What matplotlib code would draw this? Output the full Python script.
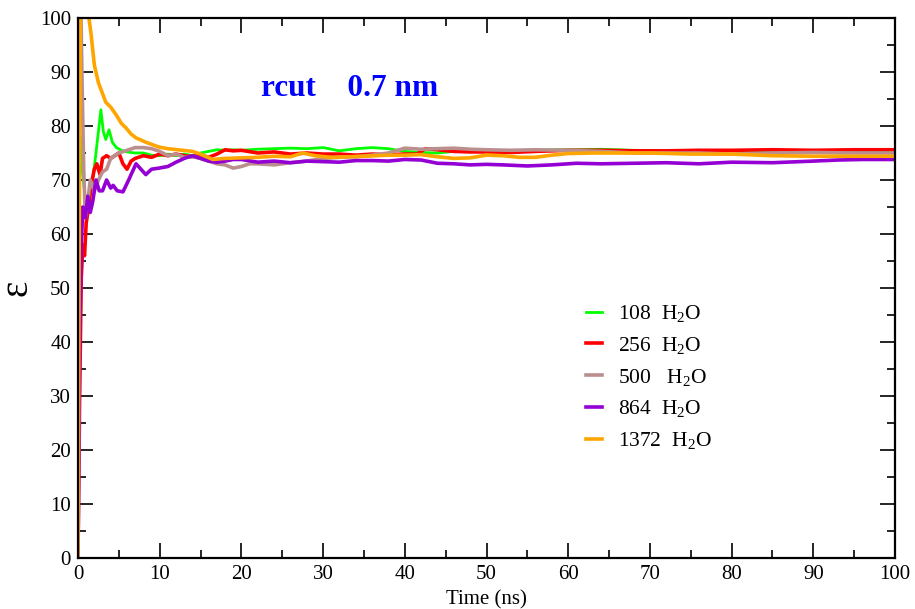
import matplotlib
matplotlib.use("Agg")
import matplotlib.pyplot as plt
from matplotlib.ticker import MultipleLocator

plt.rcParams['font.family'] = ['Liberation Serif', 'DejaVu Serif']
plt.rcParams['mathtext.fontset'] = 'custom'
plt.rcParams['mathtext.rm'] = 'Liberation Serif'
plt.rcParams['mathtext.it'] = 'Liberation Serif:italic'
plt.rcParams['mathtext.bf'] = 'Liberation Serif:bold'

# Running dielectric constant vs. simulation time, rcut = 0.7 nm
t_108 = [0, 0.15, 0.3, 0.5, 0.8, 1.1, 1.4, 1.8, 2.2, 2.5, 2.8, 3.1, 3.4, 3.8, 4.2, 4.7,
         5.3, 6, 7, 8, 9, 10, 11, 12, 13, 14, 15, 16, 17, 18, 19, 20, 22, 24, 26, 28,
         30, 32, 34, 36, 38, 40, 42, 44, 46, 48, 50, 52, 55, 58, 61, 64, 68, 72, 76,
         80, 85, 90, 95, 100]
eps_108 = [0, 74, 78, 72, 68, 64, 66, 70, 75, 79, 83, 79, 77.5, 79.3, 77, 76, 75.5, 75.2,
           75, 75, 74.6, 74.5, 74.8, 74.5, 74.8, 74.5, 75, 75.3, 75.6, 75.5, 75.6, 75.5,
           75.7, 75.8, 75.9, 75.8, 76, 75.4, 75.8, 76, 75.8, 75.3, 75.1, 75, 75.3, 75.4,
           75.2, 75.3, 75.4, 75.6, 75.6, 75.7, 75.5, 75.3, 75.2, 75.4, 75.3, 75.4, 75.3,
           75.3]

t_256 = [0, 0.2, 0.4, 0.6, 0.8, 1.0, 1.3, 1.6, 2.0, 2.3, 2.7, 3.0, 3.5, 4.0, 4.5, 5.0,
         5.5, 6.0, 6.5, 7, 8, 9, 10, 11, 12, 13, 14, 15, 16, 17, 18, 19, 20, 22, 24, 26,
         28, 30, 32, 34, 36, 38, 40, 41.5, 42.5, 44, 46, 48, 50, 53, 56, 60, 64, 68, 72,
         76, 80, 85, 90, 95, 100]
eps_256 = [0, 30, 52, 58, 56, 62, 65, 69, 72, 73, 71, 74, 74.5, 74, 74.5, 75, 73, 72,
           73.5, 74, 74.5, 74.2, 74.8, 74.5, 74.8, 74.5, 74.3, 74.6, 74.2, 74.8, 75.6,
           75.4, 75.5, 75, 75.2, 74.8, 75, 74.8, 74.8, 74.6, 74.8, 74.7, 74.8, 74.8, 75.8,
           75.6, 75.3, 75.2, 75.2, 75.1, 75.3, 75.5, 75.5, 75.4, 75.4, 75.5, 75.5, 75.6,
           75.5, 75.6, 75.6]

t_500 = [0, 0.1, 0.2, 0.35, 0.5, 0.7, 0.9, 1.2, 1.5, 2, 2.5, 3, 3.5, 4, 4.5, 5, 6, 7, 8,
         9, 10, 11, 12, 13, 14, 15, 16, 17, 18, 19, 20, 21, 22, 24, 26, 28, 30, 32, 34,
         36, 38, 40, 42, 44, 46, 48, 50, 53, 56, 60, 64, 68, 72, 76, 80, 85, 90, 95, 100]
eps_500 = [0, 60, 105, 102, 88, 72, 63, 66, 70, 68, 70, 71.5, 72, 74, 74.5, 75, 75.5, 76,
           76, 75.8, 75.3, 74.5, 74.8, 74.2, 74.3, 74, 73.5, 73, 72.8, 72.2, 72.5, 73, 73,
           72.8, 73.2, 73.5, 74, 74.2, 74.3, 74.6, 75, 75.9, 75.7, 75.8, 75.9, 75.7, 75.6,
           75.5, 75.6, 75.5, 75.3, 75, 75, 75, 74.8, 75, 75.1, 75, 75]

t_864 = [0, 0.2, 0.4, 0.6, 0.9, 1.2, 1.5, 1.8, 2.2, 2.6, 3, 3.5, 4, 4.3, 4.8, 5.5, 6.2,
         7.1, 7.7, 8.3, 9, 9.9, 11, 12, 13, 14, 15, 16, 17, 18, 19, 20, 22, 24, 26, 28,
         30, 32, 34, 36, 38, 40, 42, 44, 46, 48, 50, 52, 55, 58, 61, 64, 68, 72, 76, 80,
         85, 90, 93, 96, 100]
eps_864 = [0, 40, 58, 65, 63, 67, 64, 66, 70, 68, 68, 70, 68.5, 69, 68, 67.8, 70, 73, 72,
           71, 72, 72.2, 72.5, 73.3, 74, 74.5, 74, 73.5, 73.3, 73.5, 73.8, 73.8, 73.3,
           73.5, 73.2, 73.5, 73.4, 73.3, 73.6, 73.6, 73.5, 73.8, 73.7, 73.1, 73, 72.8,
           72.9, 72.8, 72.6, 72.8, 73.1, 73, 73.1, 73.2, 73, 73.3, 73.2, 73.5, 73.7, 73.8,
           73.8]

t_1372 = [0, 0.15, 0.3, 0.6, 1.0, 1.3, 1.6, 2.0, 2.5, 3.0, 3.4, 4.0, 4.7, 5.3, 5.9, 6.5,
          7.1, 8.3, 9.9, 11, 12.8, 14, 15, 16.5, 18, 20, 22, 24, 26, 27.5, 29, 31, 33,
          35, 38, 40, 42, 44, 46, 48, 50, 52, 54, 56, 58, 60, 63, 66, 70, 75, 80, 85, 90,
          95, 100]
eps_1372 = [0, 60, 105, 108, 104, 100.5, 97, 91.3, 88, 86, 84.4, 83.5, 82, 80.5, 79.6,
            78.5, 77.8, 77, 76.1, 75.8, 75.5, 75.3, 74.8, 73.8, 74, 74.1, 74.2, 74.4, 74.3,
            75, 74.5, 74.2, 74.3, 74.4, 74.6, 74.6, 74.7, 74.3, 74, 74.1, 74.6, 74.5, 74.2,
            74.2, 74.6, 74.9, 75, 75, 75, 74.8, 74.8, 74.5, 74.4, 74.4, 74.4]

labels = ["108  H$_2$O", "256  H$_2$O", "500   H$_2$O", "864  H$_2$O", "1372  H$_2$O"]
colors = ["#00ff00", "#ff0000", "#bc8f8f", "#9400d3", "#ffa500"]
widths = [2.0, 2.6, 2.6, 2.6, 2.6]
series = [(t_108, eps_108), (t_256, eps_256), (t_500, eps_500),
          (t_864, eps_864), (t_1372, eps_1372)]

fig = plt.figure(figsize=(9.15, 6.09), dpi=100)
ax = fig.add_axes([78 / 915, 1 - 558 / 609, 817 / 915, 540 / 609])

for (t, e), lab, c, w in zip(series, labels, colors, widths):
    ax.plot(t, e, color=c, lw=w, label=lab, solid_joinstyle='round')

ax.set_xlim(0, 100)
ax.set_ylim(0, 100)
ax.xaxis.set_major_locator(MultipleLocator(10))
ax.xaxis.set_minor_locator(MultipleLocator(5))
ax.yaxis.set_major_locator(MultipleLocator(10))
ax.yaxis.set_minor_locator(MultipleLocator(5))
ax.tick_params(which='both', direction='in', top=True, right=True,
               colors='black', labelsize=15)
ax.tick_params(which='major', length=11, width=1.2, pad=5)
ax.tick_params(which='minor', length=5.5, width=1.2)
for sp in ax.spines.values():
    sp.set_linewidth(1.6)

ax.set_xlabel("Time (ns)", fontsize=15)
ax.xaxis.set_label_coords(0.5, -0.059)
ax.set_ylabel("ε", fontsize=28)
ax.yaxis.set_label_coords(-0.052, 0.5)

ax.text(0.332, 0.870, "rcut    0.7 nm", transform=ax.transAxes, color='#0000ff',
        fontsize=22.5, fontweight='bold', ha='center', va='center')

leg = ax.legend(loc='upper left', bbox_to_anchor=(0.622, 0.472), frameon=False,
                fontsize=15.5, handlelength=0.75, handletextpad=0.75,
                labelspacing=0.5, borderpad=0, borderaxespad=0)

fig.savefig("out.png", dpi=100)
